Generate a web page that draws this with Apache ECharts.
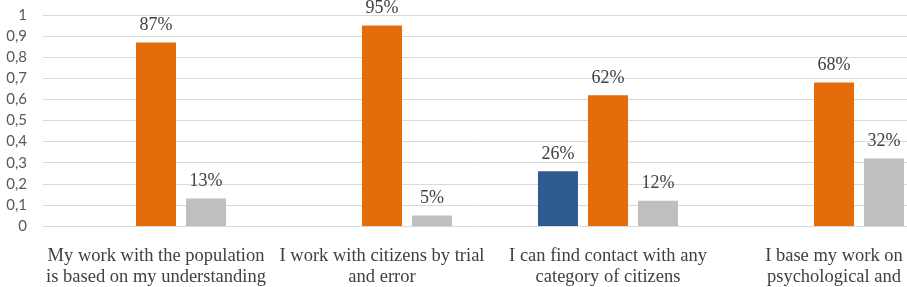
<!DOCTYPE html>
<html>
<head>
<meta charset="utf-8">
<script src="https://cdn.jsdelivr.net/npm/echarts@6/dist/echarts.min.js"></script>
<style>html,body{margin:0;padding:0;background:#fff}#c{width:907px;height:287px}</style>
</head>
<body>
<div id="c"></div>
<script>
const categories = [
  "My work with the population\nis based on my understanding",
  "I work with citizens by trial\nand error",
  "I can find contact with any\ncategory of citizens",
  "I base my work on\npsychological and"
];
const seriesBlue = [null, null, 0.26, null];
const seriesOrange = [0.87, 0.95, 0.62, 0.68];
const seriesGray = [0.13, 0.05, 0.12, 0.32];

const chart = echarts.init(document.getElementById('c'));
const serif = "'Liberation Serif', serif";
const lbl = {
  show: true, position: 'top', distance: 8,
  fontFamily: serif, fontSize: 18, color: '#404040',
  formatter: p => (p.value == null ? '' : Math.round(p.value * 100) + '%')
};
function mk(name, data, color) {
  return {
    name, type: 'bar', data, barWidth: 40, barGap: '25%',
    itemStyle: { color }, label: lbl, emphasis: { disabled: true }
  };
}
chart.setOption({
  animation: false,
  grid: { left: 43, top: 15, width: 904, height: 211, outerBoundsMode: 'none', containLabel: false },
  xAxis: {
    type: 'category', data: categories,
    axisLine: { show: true, lineStyle: { color: '#d9d9d9', width: 1 } },
    axisTick: { show: false },
    axisLabel: { interval: 0, margin: 20, fontFamily: serif, fontSize: 18.5, color: '#404040', lineHeight: 21, hideOverlap: false }
  },
  yAxis: {
    type: 'value', min: 0, max: 1, interval: 0.1,
    axisLine: { show: false }, axisTick: { show: false },
    splitLine: { lineStyle: { color: '#d9d9d9', width: 1 } },
    axisLabel: {
      margin: 16, fontFamily: "Lato", fontSize: 15, color: '#595959',
      formatter: v => (v === 0 ? '0' : (Math.abs(v - 1) < 1e-9 ? '1' : v.toFixed(1).replace('.', ',')))
    }
  },
  series: [
    mk('Blue', seriesBlue, '#2f5b8f'),
    mk('Orange', seriesOrange, '#e46c0a'),
    mk('Gray', seriesGray, '#bfbfbf')
  ]
});
</script>
</body>
</html>
